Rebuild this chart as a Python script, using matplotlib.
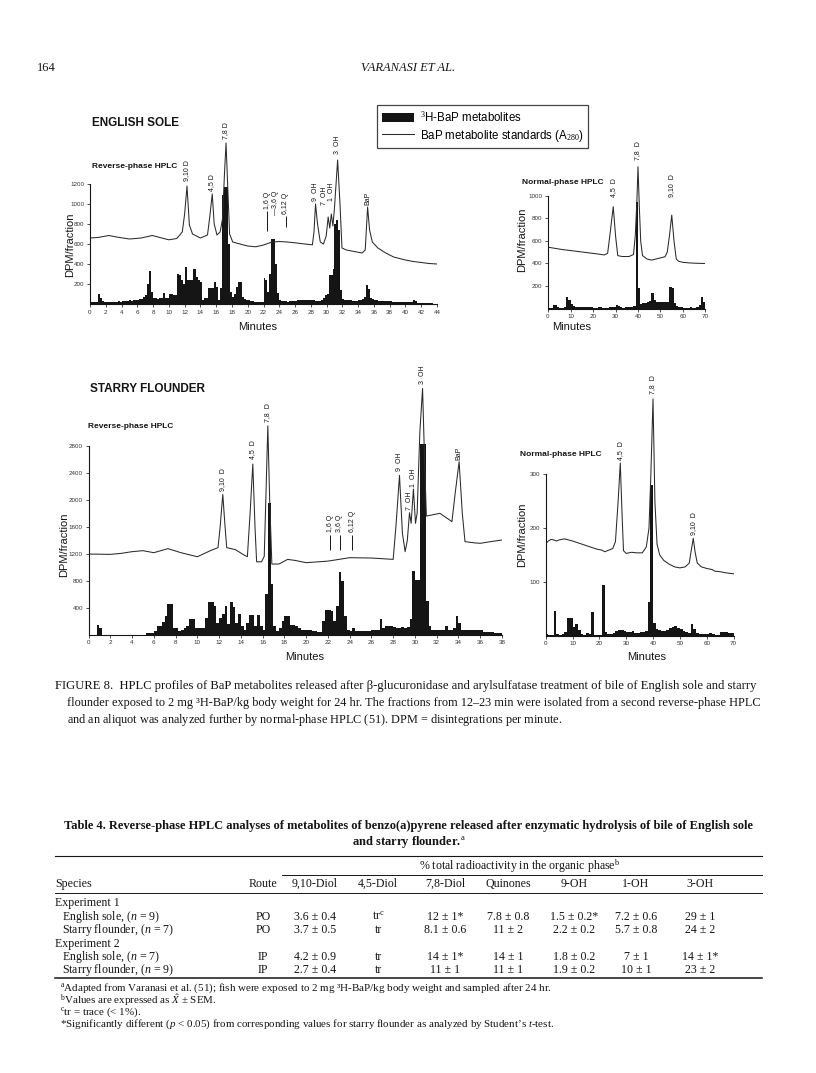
import numpy as np
import matplotlib.pyplot as plt
from matplotlib.lines import Line2D

W, H = 816, 1073
SANS = ['Liberation Sans', 'DejaVu Sans']
SERIF = ['Liberation Serif', 'DejaVu Serif']
plt.rcParams['font.family'] = SANS
plt.rcParams['mathtext.fontset'] = 'custom'
plt.rcParams['mathtext.rm'] = 'Liberation Serif'
plt.rcParams['mathtext.it'] = 'Liberation Serif:italic'

# ---- English sole, reverse phase (0.25 min fractions) ----
es_rp_dt = 0.25
es_rp_bars = [
    20, 20, 20, 25, 100, 60, 35, 25,
    22, 20, 20, 25, 25, 25, 30, 25,
    30, 35, 30, 35, 40, 35, 40, 45,
    45, 50, 55, 70, 90, 200, 330, 120,
    60, 60, 55, 60, 65, 110, 60, 60,
    100, 100, 90, 95, 300, 290, 240, 200,
    370, 240, 240, 240, 350, 350, 270, 240,
    220, 40, 60, 60, 160, 160, 160, 220,
    170, 40, 160, 1090, 1170, 1170, 600, 120,
    70, 100, 170, 220, 220, 70, 50, 45,
    40, 35, 30, 25, 25, 22, 20, 20,
    260, 240, 120, 300, 650, 650, 400, 110,
    40, 35, 30, 30, 25, 30, 30, 35,
    35, 40, 45, 45, 45, 45, 40, 40,
    40, 40, 35, 35, 30, 40, 60, 90,
    100, 290, 290, 350, 800, 840, 740, 140,
    55, 45, 40, 40, 40, 35, 35, 35,
    40, 40, 50, 70, 190, 150, 60, 50,
    45, 40, 35, 35, 30, 30, 30, 28,
    28, 25, 25, 22, 22, 20, 20, 20,
    20, 18, 18, 25, 40, 30, 15, 15,
    12, 12, 10, 10, 8, 8, 5, 5,
]
es_rp_std_t = [0, 1, 2.4, 3.5, 5, 6.5, 7.9, 9, 10, 11, 11.7, 12.0, 12.3, 12.6, 13.0, 14.0,
               14.9, 15.2, 15.5, 15.75, 16.1, 16.5, 16.8, 17.05, 17.25, 17.45, 17.7, 18.1,
               19, 20, 21, 22, 23, 24, 25, 26, 27, 28.2, 28.4, 28.6, 28.85, 29.2, 29.6,
               29.95, 30.2, 30.4, 30.6, 30.8, 31.0, 31.4, 31.7, 31.95, 32.5, 33.5, 34.5,
               34.9, 35.2, 35.45, 35.8, 36.5, 37.5, 38.5, 40, 41, 42, 43, 44]
es_rp_std_v = [660, 665, 685, 668, 650, 660, 685, 662, 642, 655, 720, 900, 1180, 790, 700, 660,
               690, 880, 1100, 800, 690, 720, 850, 1300, 1610, 1200, 700, 620,
               600, 580, 572, 590, 618, 625, 620, 612, 602, 592, 720, 1000, 800, 620, 600,
               680, 870, 760, 900, 780, 960, 1440, 1000, 560, 540, 525, 510,
               540, 970, 740, 620, 560, 510, 470, 440, 425, 415, 405, 400]
es_rp_labels = ['9,10 D', '4,5 D', '7,8 D', '9  OH', '7  OH', '1  OH', '3  OH', 'BaP']
es_rp_label_t = [12.3, 15.4, 17.2, 28.6, 29.75, 30.6, 31.4, 35.2]
es_rp_label_v = [1230, 1130, 1650, 1030, 990, 1030, 1500, 990]
es_q_labels = ['1,6 Q', '\u20143,6 Q', '6,12 Q']
es_q_t = [22.5, 23.5, 24.8]
es_q_lo = [730, 870, 770]
es_q_hi = [930, 870, 880]

# ---- English sole, normal phase (1 min fractions) ----
es_np_dt = 1.0
es_np_bars = [5, 5, 30, 30, 10, 8, 8, 15, 105, 75,
              40, 20, 15, 15, 12, 10, 10, 10, 15, 10,
              8, 8, 15, 10, 8, 8, 8, 10, 10, 15,
              30, 25, 10, 8, 10, 10, 12, 15, 20, 950,
              180, 40, 45, 50, 55, 70, 135, 75, 55, 60,
              55, 60, 55, 55, 195, 180, 45, 20, 15, 10,
              8, 8, 8, 10, 8, 8, 10, 30, 100, 60]
es_np_std_t = [0, 3, 6, 10, 14, 18, 22, 25, 26.5, 27.5, 29, 30, 31, 33, 36, 38, 38.8, 39.5,
               40, 40.6, 41.2, 42, 44, 46, 48, 50, 52, 53, 54, 55, 56, 57, 58, 60, 63, 66, 70]
es_np_std_v = [545, 535, 525, 515, 505, 495, 485, 476, 490, 650, 905, 650, 470, 462, 462, 480,
               650, 950, 1260, 900, 600, 470, 440, 430, 440, 450, 460, 500, 650, 830, 600,
               440, 420, 410, 405, 402, 400]
es_np_labels = ['4,5  D', '7,8  D', '9,10  D']
es_np_label_t = [29, 40, 55]
es_np_label_v = [990, 1320, 990]

# ---- Starry flounder, reverse phase (0.25 min fractions) ----
sf_rp_dt = 0.25
sf_rp_bars = [
    0, 0, 0, 150, 100, 0, 0, 0,
    0, 0, 0, 0, 0, 0, 0, 0,
    0, 0, 0, 0, 0, 25, 25, 25,
    50, 130, 130, 190, 270, 455, 455, 100,
    100, 50, 75, 100, 125, 230, 230, 100,
    100, 100, 100, 250, 485, 485, 420, 175,
    250, 300, 430, 160, 485, 410, 175, 300,
    125, 75, 175, 285, 295, 125, 285, 125,
    75, 600, 1950, 755, 125, 50, 100, 200,
    270, 280, 150, 150, 125, 100, 75, 75,
    75, 75, 60, 60, 35, 35, 200, 370,
    370, 355, 200, 420, 930, 790, 270, 75,
    50, 100, 50, 50, 55, 60, 60, 60,
    70, 75, 75, 230, 100, 125, 125, 125,
    110, 100, 100, 110, 100, 110, 230, 950,
    815, 815, 2820, 2820, 495, 125, 75, 75,
    75, 75, 75, 130, 75, 75, 100, 270,
    175, 75, 75, 65, 65, 65, 75, 75,
    75, 35, 35, 35, 35, 30, 25, 25,
]
sf_rp_std_t = [0, 1, 2, 3, 4, 5, 6, 7.3, 8.5, 10, 11.2, 11.9, 12.1, 12.34, 12.55, 12.7, 13.5,
               14.3, 14.6, 14.85, 15.1, 15.3, 15.45, 15.9, 16.15, 16.33, 16.48, 16.65, 16.85,
               17.5, 18.3, 19, 20, 22, 24, 26, 28, 28.25, 28.58, 28.85, 29.1, 29.3, 29.5,
               29.65, 29.86, 30.05, 30.2, 30.45, 30.7, 30.9, 31.05, 32.3, 33.4, 33.7, 34.06,
               34.35, 34.6, 35.5, 36, 37, 38]
sf_rp_std_v = [1195, 1193, 1190, 1205, 1230, 1245, 1215, 1275, 1215, 1155, 1245, 1290, 1600,
               2079, 1600, 1290, 1260, 1180, 1155, 1800, 2528, 1600, 1080, 1080, 1160, 2200,
               3095, 2000, 1047, 1047, 1116, 1100, 1067, 1090, 1141, 1136, 1116, 1600, 2360,
               1500, 1230, 1400, 1807, 1650, 2158, 1650, 1800, 3000, 3648, 2500, 1758, 1798,
               1675, 2100, 2563, 1800, 1379, 1360, 1354, 1380, 1403]
sf_rp_labels = ['9,10  D', '4,5  D', '7,8  D', '9  OH', '7  OH', '1  OH', '3  OH', 'BaP']
sf_rp_label_t = [12.34, 15.1, 16.48, 28.58, 29.5, 29.86, 30.7, 34.06]
sf_rp_label_v = [2130, 2600, 3150, 2420, 1850, 2190, 3720, 2590]
sf_q_labels = ['1,6 Q', '3,6 Q', '6,12 Q']
sf_q_t = [22.2, 23.1, 24.25]
sf_q_lo = [1254, 1254, 1254]
sf_q_hi = [1477, 1477, 1477]

# ---- Starry flounder, normal phase (1 min fractions) ----
sf_np_dt = 1.0
sf_np_bars = [3, 2, 2, 45, 3, 2, 3, 7, 32, 32,
              17, 22, 10, 3, 2, 5, 3, 44, 2, 1,
              2, 94, 7, 3, 3, 5, 8, 10, 10, 8,
              6, 7, 8, 5, 5, 6, 7, 8, 62, 280,
              24, 12, 10, 9, 8, 10, 14, 16, 18, 15,
              12, 8, 6, 5, 21, 12, 5, 4, 3, 3,
              4, 5, 4, 2, 2, 7, 6, 7, 5, 5]
sf_np_std_t = [0, 1, 2, 3, 4, 5, 7, 10, 13, 16, 19, 21, 22, 23, 25, 26, 27, 27.8, 28.5, 29,
               30, 32, 34, 36, 37.5, 38.5, 39.2, 40, 40.7, 41.5, 42.5, 44, 46, 48, 50, 52,
               53.5, 54.3, 55, 55.7, 56.5, 58, 60, 62, 63, 65, 67, 70]
sf_np_std_v = [171, 176, 179, 178, 176, 178, 180, 176, 171, 166, 161, 159, 156, 158, 162, 175,
               250, 321, 220, 158, 153, 155, 154, 154, 165, 200, 300, 440, 250, 170, 150, 140,
               133, 128, 126, 128, 135, 160, 181, 155, 135, 128, 125, 123, 120, 119, 117, 115]
sf_np_labels = ['4,5  D', '7,8  D', '9,10  D']
sf_np_label_t = [27.8, 40, 55]
sf_np_label_v = [326, 450, 188]

# ---- Table 4 ----
tbl_cols = ['9,10-Diol', '4,5-Diol', '7,8-Diol', 'Quinones', '9-OH', '1-OH', '3-OH']
tbl_species = ['English sole, ($n$ = 9)', 'Starry flounder, ($n$ = 7)',
               'English sole, ($n$ = 7)', 'Starry flounder, ($n$ = 9)']
tbl_route = ['PO', 'PO', 'IP', 'IP']
tbl_vals = [
    ['3.6 \u00b1 0.4', 'tr$^{\\rm c}$', '12 \u00b1 1*', '7.8 \u00b1 0.8', '1.5 \u00b1 0.2*', '7.2 \u00b1 0.6', '29 \u00b1 1'],
    ['3.7 \u00b1 0.5', 'tr', '8.1 \u00b1 0.6', '11 \u00b1 2', '2.2 \u00b1 0.2', '5.7 \u00b1 0.8', '24 \u00b1 2'],
    ['4.2 \u00b1 0.9', 'tr', '14 \u00b1 1*', '14 \u00b1 1', '1.8 \u00b1 0.2', '7 \u00b1 1', '14 \u00b1 1*'],
    ['2.7 \u00b1 0.4', 'tr', '11 \u00b1 1', '11 \u00b1 1', '1.9 \u00b1 0.2', '10 \u00b1 1', '23 \u00b1 2'],
]

INK = '#151515'
fig = plt.figure(figsize=(W / 100, H / 100), dpi=100)


def ft(x, y, s, **kw):
    kw.setdefault('color', INK)
    return fig.text(x / W, 1 - y / H, s, **kw)


def hline(x0, x1, y, lw=0.8):
    fig.add_artist(Line2D([x0 / W, x1 / W], [1 - y / H, 1 - y / H],
                          transform=fig.transFigure, color=INK, lw=lw))


def chrom(px0, px1, pybase, pytop, xmax, ymax, xt, yt, dt, bars, st, sv):
    ax = fig.add_axes([px0 / W, 1 - pybase / H, (px1 - px0) / W, (pybase - pytop) / H])
    ax.patch.set_alpha(0)
    t = np.arange(len(bars)) * dt
    ax.bar(t, bars, width=dt, align='edge', color=INK, linewidth=0, label='$^3$H-BaP metabolites')
    ax.plot(st, sv, color='#2a2a2a', lw=0.75, label='BaP metabolite standards (A$_{280}$)')
    ax.set_xlim(0, xmax)
    ax.set_ylim(0, ymax)
    ax.set_xticks(xt)
    ax.set_yticks(yt)
    for s in ['top', 'right']:
        ax.spines[s].set_visible(False)
    ax.spines['left'].set_bounds(0, yt[-1])
    for s in ['left', 'bottom']:
        ax.spines[s].set_linewidth(0.8)
        ax.spines[s].set_color(INK)
    ax.tick_params(labelsize=4.5, length=2, width=0.6, pad=2, colors='#333333')
    return ax


def peak_labels(ax, labels, ts, vs):
    for s, t, v in zip(labels, ts, vs):
        ax.text(t, v, s, rotation=90, ha='center', va='bottom', fontsize=5, color=INK)


# panel A
axA = chrom(90, 437, 304, 100, 44, 2040, range(0, 45, 2), [200, 400, 600, 800, 1000, 1200],
            es_rp_dt, es_rp_bars, es_rp_std_t, es_rp_std_v)
peak_labels(axA, es_rp_labels, es_rp_label_t, es_rp_label_v)
axA.vlines(es_q_t, es_q_lo, es_q_hi, color=INK, lw=0.7)
peak_labels(axA, es_q_labels, es_q_t, [v + 20 for v in es_q_hi])

# panel B
axB = chrom(548, 705.5, 308.5, 100, 70, 1853, range(0, 71, 10), [200, 400, 600, 800, 1000],
            es_np_dt, es_np_bars, es_np_std_t, es_np_std_v)
peak_labels(axB, es_np_labels, es_np_label_t, es_np_label_v)

# panel C
axC = chrom(88.5, 502, 634.7, 355, 38, 4144, range(0, 39, 2),
            [400, 800, 1200, 1600, 2000, 2400, 2800],
            sf_rp_dt, sf_rp_bars, sf_rp_std_t, sf_rp_std_v)
peak_labels(axC, sf_rp_labels, sf_rp_label_t, sf_rp_label_v)
axC.vlines(sf_q_t, sf_q_lo, sf_q_hi, color=INK, lw=0.7)
peak_labels(axC, sf_q_labels, sf_q_t, [v + 40 for v in sf_q_hi])

# panel D
axD = chrom(545.7, 733.5, 635.7, 355, 70, 521.7, range(0, 71, 10), [100, 200, 300],
            sf_np_dt, sf_np_bars, sf_np_std_t, sf_np_std_v)
peak_labels(axD, sf_np_labels, sf_np_label_t, sf_np_label_v)

# panel texts
ft(92, 123, 'ENGLISH SOLE', fontsize=8.5, fontweight='bold', va='center')
ft(90, 389, 'STARRY FLOUNDER', fontsize=8.5, fontweight='bold', va='center')
ft(92, 167, 'Reverse-phase HPLC', fontsize=6, fontweight='bold', va='center')
ft(88, 427, 'Reverse-phase HPLC', fontsize=6, fontweight='bold', va='center')
ft(522, 182, 'Normal-phase HPLC', fontsize=6, fontweight='bold', va='center')
ft(520, 455, 'Normal-phase HPLC', fontsize=6, fontweight='bold', va='center')
for x, y in [(70, 245), (522, 240), (64, 545), (522, 535)]:
    ft(x, y, 'DPM/fraction', fontsize=8, rotation=90, ha='center', va='center')
for x, y in [(258, 327), (572, 327), (305, 657), (647, 657)]:
    ft(x, y, 'Minutes', fontsize=8, ha='center', va='center')

h, l = axA.get_legend_handles_labels()
leg = fig.legend(h[::-1], l[::-1], loc='upper left', bbox_to_anchor=(377 / W, 1 - 105 / H),
                 borderaxespad=0, fontsize=8.3, frameon=True, fancybox=False, edgecolor=INK,
                 handlelength=2.8, handleheight=0.8, borderpad=0.4, labelspacing=0.3,
                 handletextpad=0.5)
leg.get_frame().set_linewidth(0.9)

# page header
ft(37, 68, '164', fontsize=9, family=SERIF, va='center')
ft(408, 68, 'VARANASI ET AL.', fontsize=9, family=SERIF, style='italic', ha='center', va='center')

# caption
cap = [
    'FIGURE 8.  HPLC profiles of BaP metabolites released after \u03b2-glucuronidase and arylsulfatase treatment of bile of English sole and starry',
    'flounder exposed to 2 mg \u00b3H-BaP/kg body weight for 24 hr. The fractions from 12\u201323 min were isolated from a second reverse-phase HPLC',
    'and an aliquot was analyzed further by normal-phase HPLC ($\\mathit{51}$). DPM = disintegrations per minute.',
]
ft(55, 686, cap[0], fontsize=9.1, family=SERIF, va='center')
ft(67, 703, cap[1], fontsize=8.85, family=SERIF, va='center')
ft(67, 720, cap[2], fontsize=8.85, family=SERIF, va='center')

# table
ft(409, 826, 'Table 4. Reverse-phase HPLC analyses of metabolites of benzo(a)pyrene released after enzymatic hydrolysis of bile of English sole',
   fontsize=9, family=SERIF, fontweight='bold', ha='center', va='center')
ft(409, 842, 'and starry flounder.$^{\\rm a}$', fontsize=9, family=SERIF, fontweight='bold',
   ha='center', va='center')
hline(55, 762, 856)
col_x = [315, 378, 445, 508, 574, 636, 700]
FS = 8.6
ft(520, 866, '% total radioactivity in the organic phase$^{\\rm b}$', fontsize=FS, family=SERIF,
   ha='center', va='center')
hline(282, 762, 875, lw=0.7)
ft(55, 884, 'Species', fontsize=FS, family=SERIF, va='center')
ft(263, 884, 'Route', fontsize=FS, family=SERIF, ha='center', va='center')
for x, c in zip(col_x, tbl_cols):
    ft(x, 884, c, fontsize=FS, family=SERIF, ha='center', va='center')
hline(55, 762, 893, lw=0.7)
row_y = [917, 930, 957, 970]
ft(55, 903, 'Experiment 1', fontsize=FS, family=SERIF, va='center')
ft(55, 944, 'Experiment 2', fontsize=FS, family=SERIF, va='center')
for y, sp, rt, vals in zip(row_y, tbl_species, tbl_route, tbl_vals):
    ft(62, y, sp, fontsize=FS, family=SERIF, va='center')
    ft(263, y, rt, fontsize=FS, family=SERIF, ha='center', va='center')
    for x, v in zip(col_x, vals):
        ft(x, y, v, fontsize=FS, family=SERIF, ha='center', va='center')
hline(55, 762, 978, lw=1.1)
notes = [
    '$^{\\rm a}$Adapted from Varanasi et al. ($\\mathit{51}$); fish were exposed to 2 mg \u00b3H-BaP/kg body weight and sampled after 24 hr.',
    '$^{\\rm b}$Values are expressed as $\\hat{X}$ \u00b1 SEM.',
    '$^{\\rm c}$tr = trace (< 1%).',
    '*Significantly different ($p$ < 0.05) from corresponding values for starry flounder as analyzed by Student\u2019s $t$-test.',
]
for i, n in enumerate(notes):
    ft(60, 988 + 12 * i, n, fontsize=7.9, family=SERIF, va='center')

fig.savefig('out.png', dpi=100)
